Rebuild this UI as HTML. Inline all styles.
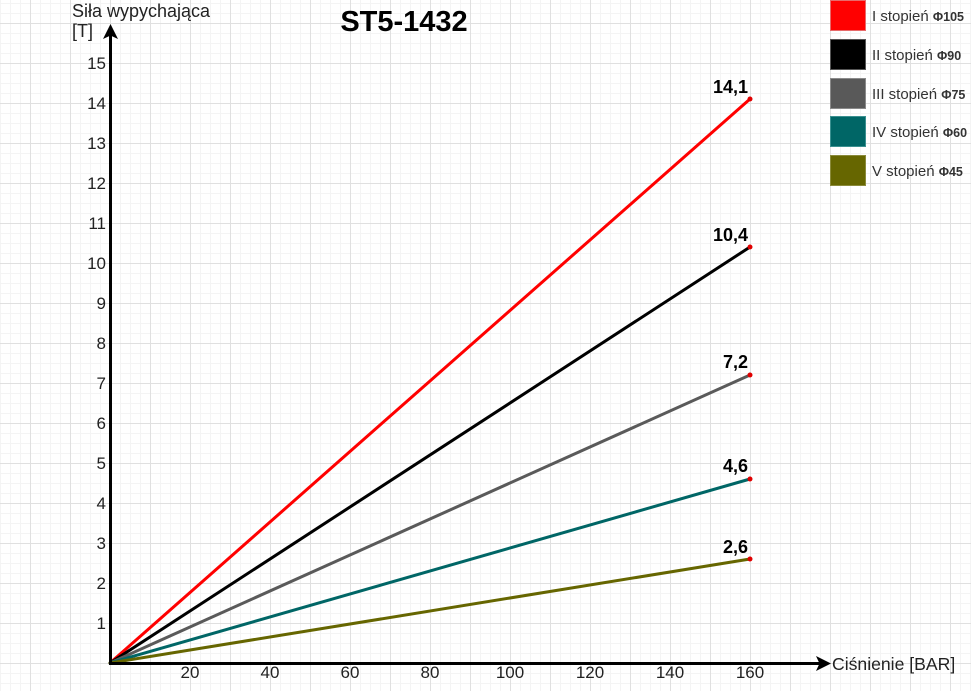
<!DOCTYPE html>
<html>
<head>
<meta charset="utf-8">
<style>
  html, body { margin:0; padding:0; background:#fff; }
  svg { display:block; }
  text { font-family: "Liberation Sans", Arial, sans-serif; }
</style>
</head>
<body>
<svg width="971" height="691" viewBox="0 0 971 691" xmlns="http://www.w3.org/2000/svg">
  <defs>
    <pattern id="minor" x="0" y="3" width="10" height="10" patternUnits="userSpaceOnUse">
      <path d="M0.5 0 V10 M0 0.5 H10" stroke="#f4f4f4" stroke-width="1" fill="none"/>
    </pattern>
    <pattern id="major" x="30" y="23" width="40" height="40" patternUnits="userSpaceOnUse">
      <path d="M0.5 0 V40 M0 0.5 H40" stroke="#e0e0e0" stroke-width="1" fill="none"/>
    </pattern>
  </defs>
  <rect width="971" height="691" fill="#fff"/>
  <rect width="971" height="691" fill="url(#minor)"/>
  <rect width="971" height="691" fill="url(#major)"/>

  <!-- Title -->
  <text x="404" y="31" font-size="29" font-weight="bold" text-anchor="middle" fill="#000">ST5-1432</text>

  <!-- Y axis label -->
  <text x="72" y="17" font-size="18" fill="#222">Siła wypychająca</text>
  <text x="72" y="37" font-size="18" fill="#222">[T]</text>

  <!-- Y tick labels -->
  <g font-size="17" fill="#222" text-anchor="end">
    <text x="106" y="69">15</text>
    <text x="106" y="109">14</text>
    <text x="106" y="149">13</text>
    <text x="106" y="189">12</text>
    <text x="106" y="229">11</text>
    <text x="106" y="269">10</text>
    <text x="106" y="309">9</text>
    <text x="106" y="349">8</text>
    <text x="106" y="389">7</text>
    <text x="106" y="429">6</text>
    <text x="106" y="469">5</text>
    <text x="106" y="509">4</text>
    <text x="106" y="549">3</text>
    <text x="106" y="589">2</text>
    <text x="106" y="629">1</text>
  </g>

  <!-- X tick labels -->
  <g font-size="17" fill="#222" text-anchor="middle">
    <text x="190" y="678">20</text>
    <text x="270" y="678">40</text>
    <text x="350" y="678">60</text>
    <text x="430" y="678">80</text>
    <text x="510" y="678">100</text>
    <text x="590" y="678">120</text>
    <text x="670" y="678">140</text>
    <text x="750" y="678">160</text>
  </g>
  <text x="832" y="670" font-size="17.6" fill="#222">Ciśnienie [BAR]</text>

  <!-- Series lines -->
  <g stroke-width="3" stroke-linecap="round" fill="none">
    <line x1="110" y1="663" x2="750" y2="99" stroke="#ff0000"/>
    <line x1="110" y1="663" x2="750" y2="247" stroke="#000000"/>
    <line x1="110" y1="663" x2="750" y2="375" stroke="#5a5a5a"/>
    <line x1="110" y1="663" x2="750" y2="479" stroke="#006666"/>
    <line x1="110" y1="663" x2="750" y2="559" stroke="#666600"/>
  </g>
  <g fill="#e00000">
    <circle cx="750" cy="99" r="2.5"/>
    <circle cx="750" cy="247" r="2.5"/>
    <circle cx="750" cy="375" r="2.5"/>
    <circle cx="750" cy="479" r="2.5"/>
    <circle cx="750" cy="559" r="2.5"/>
  </g>

  <!-- Value labels -->
  <g font-size="18" font-weight="bold" fill="#000" text-anchor="end">
    <text x="748" y="93">14,1</text>
    <text x="748" y="241">10,4</text>
    <text x="748" y="368">7,2</text>
    <text x="748" y="472">4,6</text>
    <text x="748" y="553">2,6</text>
  </g>

  <!-- Axes -->
  <line x1="110.5" y1="665" x2="110.5" y2="34" stroke="#000" stroke-width="3"/>
  <polygon points="110.5,24 103,39 110.5,35.5 118,39" fill="#000"/>
  <line x1="109" y1="663.5" x2="820" y2="663.5" stroke="#000" stroke-width="3"/>
  <polygon points="831,663.5 816,656 819.5,663.5 816,671" fill="#000"/>

  <!-- Legend -->
  <g stroke-width="1">
    <rect x="830.5" y="0.5" width="35" height="30" fill="#ff0000" stroke="#e86a6a"/>
    <rect x="830.5" y="39.5" width="35" height="30" fill="#000000" stroke="#555"/>
    <rect x="830.5" y="78.5" width="35" height="30" fill="#595959" stroke="#8a8a8a"/>
    <rect x="830.5" y="116.5" width="35" height="30" fill="#006666" stroke="#3a9090"/>
    <rect x="830.5" y="155.5" width="35" height="30" fill="#666600" stroke="#8a8a3a"/>
  </g>
  <g font-size="15" fill="#333">
    <text x="872" y="21">I stopień <tspan font-size="12.5" font-weight="bold">Φ105</tspan></text>
    <text x="872" y="60">II stopień <tspan font-size="12.5" font-weight="bold">Φ90</tspan></text>
    <text x="872" y="99">III stopień <tspan font-size="12.5" font-weight="bold">Φ75</tspan></text>
    <text x="872" y="137">IV stopień <tspan font-size="12.5" font-weight="bold">Φ60</tspan></text>
    <text x="872" y="176">V stopień <tspan font-size="12.5" font-weight="bold">Φ45</tspan></text>
  </g>
</svg>
</body>
</html>
